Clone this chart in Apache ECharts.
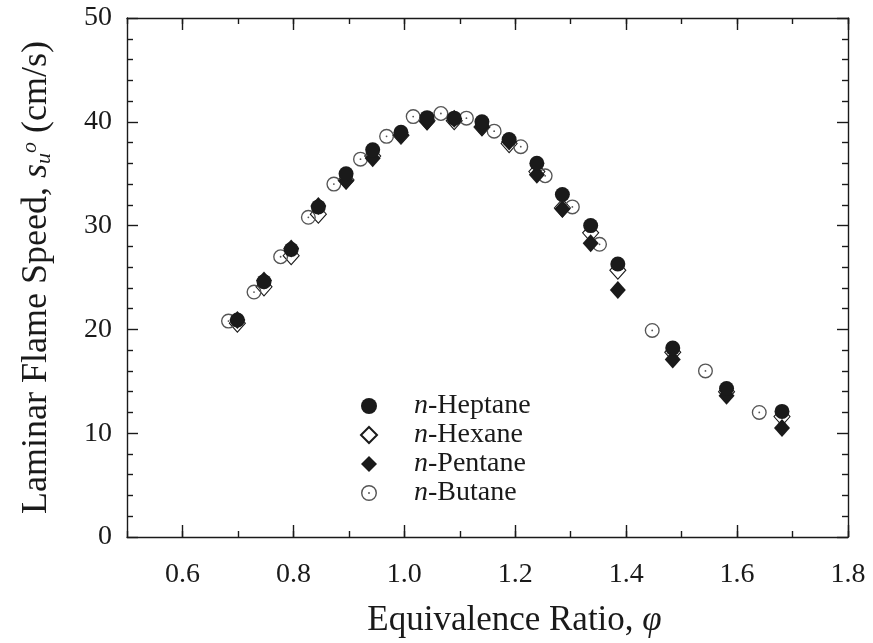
<!DOCTYPE html>
<html><head><meta charset="utf-8">
<script src="https://cdn.jsdelivr.net/npm/echarts@6/dist/echarts.min.js"></script>
<style>html,body{margin:0;padding:0;background:#fff}#c{width:873px;height:643px}</style>
</head><body><div id="c"></div>
<script>
// Data
const heptaneX = [0.699,0.747,0.796,0.845,0.895,0.943,0.994,1.041,1.09,1.14,1.189,1.239,1.285,1.336,1.385,1.484,1.581,1.681];
const heptaneY = [20.9,24.6,27.7,31.8,35.0,37.3,39.0,40.4,40.35,40.0,38.3,36.0,33.0,30.0,26.3,18.2,14.3,12.1];
const hexaneX  = [0.699,0.747,0.796,0.845,0.895,0.943,0.994,1.041,1.09,1.14,1.189,1.239,1.285,1.336,1.385,1.484,1.581,1.681];
const hexaneY  = [20.6,24.1,27.1,31.1,34.4,36.7,38.7,40.1,40.1,39.5,37.9,35.2,31.7,29.3,25.7,17.8,14.0,11.6];
const pentaneX = [0.699,0.747,0.796,0.845,0.895,0.943,0.994,1.041,1.09,1.14,1.189,1.239,1.285,1.336,1.385,1.484,1.581,1.681];
const pentaneY = [20.9,24.7,27.8,31.9,34.3,36.5,38.7,40.0,40.3,39.5,38.1,34.9,31.6,28.3,23.8,17.1,13.6,10.5];
const butaneX  = [0.683,0.729,0.777,0.827,0.873,0.921,0.968,1.016,1.066,1.112,1.162,1.21,1.254,1.303,1.352,1.447,1.543,1.64];
const butaneY  = [20.8,23.6,27.0,30.8,34.0,36.4,38.6,40.5,40.8,40.35,39.1,37.6,34.8,31.8,28.2,19.9,16.0,12.0];
const seriesNames = ['n-Heptane','n-Hexane','n-Pentane','n-Butane'];
const xTickLabels = [0.6,0.8,1.0,1.2,1.4,1.6,1.8];
const yTickLabels = [0,10,20,30,40,50];

const zip = (xs, ys) => xs.map((x, i) => [x, ys[i]]);
const FONT = '"Liberation Serif","DejaVu Serif",serif';
const INK = '#1a1a1a';
const ringDot = 'path://M50 0A50 50 0 1 1 50 100A50 50 0 1 1 50 0ZM50 9A41 41 0 1 0 50 91A41 41 0 1 0 50 9ZM50 44A6 6 0 1 1 50 56A6 6 0 1 1 50 44Z';

const lineStyle = {color: INK, width: 1.4};
function xAxisBase(pos, showLine) {
  return {type:'value', position: pos, min:0.5, max:1.8, splitLine:{show:false},
    axisLine:{show:showLine, onZero:false, lineStyle}, axisLabel:{show:false}};
}
const chart = echarts.init(document.getElementById('c'), null, {renderer:'canvas'});
chart.setOption({
  animation:false,
  backgroundColor:'#fff',
  grid:{left:127, right:25, top:18, bottom:100},
  legend:{
    orient:'vertical', left:355, top:387, itemGap:1, itemWidth:16, itemHeight:16,
    data: seriesNames,
    formatter: n => '{i|n}{t|' + n.slice(1) + '}',
    textStyle:{padding:[0,0,0,32], rich:{
      i:{fontFamily:FONT, fontSize:28, fontStyle:'italic', color:INK},
      t:{fontFamily:FONT, fontSize:28, color:INK}}}
  },
  xAxis:[
    Object.assign(xAxisBase('bottom', true), {
      interval:0.1,
      axisTick:{inside:true, length:6, lineStyle},
      axisLabel:{show:true, customValues:xTickLabels, formatter:v=>v.toFixed(1), margin:24,
        fontFamily:FONT, fontSize:28, color:INK},
      name:'{n|Equivalence Ratio, }{p|φ}', nameLocation:'middle', nameGap:66,
      nameTextStyle:{padding:[0,0,0,54], rich:{n:{fontFamily:FONT, fontSize:35, color:INK},
        p:{fontFamily:FONT, fontSize:35, fontStyle:'italic', color:INK}}}
    }),
    Object.assign(xAxisBase('bottom', false), {
      axisTick:{inside:true, length:12, lineStyle, customValues:xTickLabels}
    }),
    Object.assign(xAxisBase('top', true), {
      interval:0.1, axisTick:{inside:true, length:6, lineStyle}
    }),
    Object.assign(xAxisBase('top', false), {
      axisTick:{inside:true, length:12, lineStyle, customValues:xTickLabels}
    })
  ],
  yAxis:[
    {type:'value', position:'left', min:0, max:50, interval:10, splitLine:{show:false},
      axisLine:{show:true, onZero:false, lineStyle},
      axisTick:{inside:true, length:11, lineStyle},
      minorTick:{show:true, splitNumber:5, length:6, lineStyle},
      axisLabel:{customValues:yTickLabels, margin:15, fontFamily:FONT, fontSize:28, color:INK},
      name:'{n|Laminar Flame Speed, }{s|s}{u|u}{o|o}{n| (cm/s)}', nameLocation:'middle', nameGap:72,
      nameTextStyle:{rich:{
        n:{fontFamily:FONT, fontSize:36, color:INK},
        s:{fontFamily:FONT, fontSize:36, fontStyle:'italic', color:INK},
        u:{fontFamily:FONT, fontSize:22, fontStyle:'italic', color:INK, padding:[14,0,0,0]},
        o:{fontFamily:FONT, fontSize:22, fontStyle:'italic', color:INK, padding:[0,0,14,0]}}}
    },
    {type:'value', position:'right', min:0, max:50, interval:10, splitLine:{show:false},
      axisLine:{show:true, onZero:false, lineStyle},
      axisTick:{inside:true, length:11, lineStyle},
      minorTick:{show:true, splitNumber:5, length:6, lineStyle},
      axisLabel:{show:false}}
  ],
  series:[
    {name:'n-Hexane', type:'scatter', symbol:'diamond', symbolSize:[16,18], z:2,
      itemStyle:{color:'rgba(255,255,255,0)', borderColor:INK, borderWidth:1.1, opacity:1},
      data: zip(hexaneX, hexaneY)},
    {name:'n-Butane', type:'scatter', symbol:ringDot, symbolSize:15, z:3,
      itemStyle:{color:'#555', opacity:1},
      data: zip(butaneX, butaneY)},
    {name:'n-Pentane', type:'scatter', symbol:'diamond', symbolSize:[16,18], z:4,
      itemStyle:{color:INK, opacity:1},
      data: zip(pentaneX, pentaneY)},
    {name:'n-Heptane', type:'scatter', symbol:'circle', symbolSize:15, z:5,
      itemStyle:{color:INK, opacity:1},
      data: zip(heptaneX, heptaneY)}
  ]
});
</script></body></html>
